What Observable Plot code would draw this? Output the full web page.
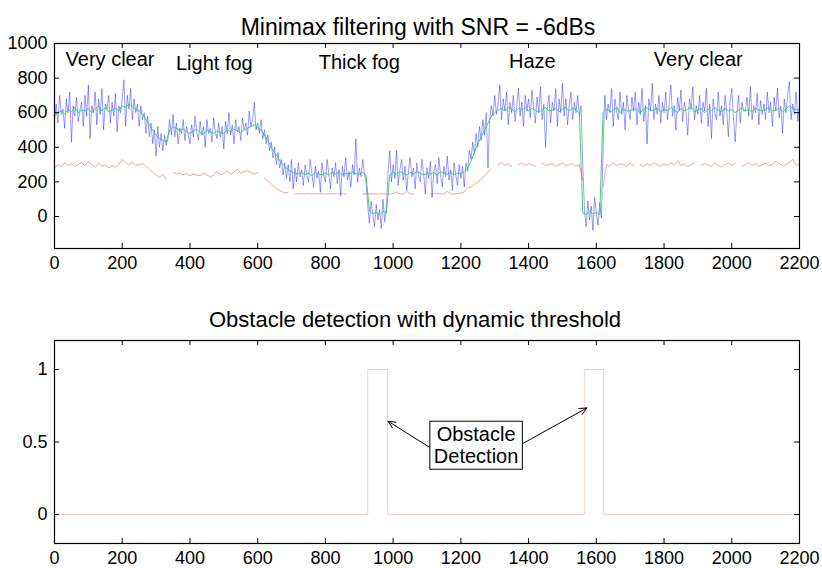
<!DOCTYPE html>
<html><head><meta charset="utf-8">
<script src="https://cdn.jsdelivr.net/npm/d3@7"></script>
<script src="https://cdn.jsdelivr.net/npm/@observablehq/plot@0.6"></script>
<style>
body{margin:0;background:#fff;}
#chart{position:relative;width:822px;height:568px;font-family:"Liberation Sans",Arial,sans-serif;}
#chart svg{position:absolute;left:0;overflow:visible;}
</style></head><body><div id="chart"></div>
<script>
// ---------- data ----------
const topTitle = "Minimax filtering with SNR = -6dBs";
const bottomTitle = "Obstacle detection with dynamic threshold";
const xTicks = [0,200,400,600,800,1000,1200,1400,1600,1800,2000,2200];
const yTicksTop = [0,200,400,600,800,1000];
const yTicksBottom = [0,0.5,1];

const blueStep = 5;
const blueValues = [
560,650,540,700,590,620,510,680,600,720,430,640,580,690,550,610,660,520,700,580,
760,450,640,600,720,530,680,590,740,500,650,620,700,540,660,580,710,490,640,600,
680,790,520,700,620,740,560,680,600,650,520,640,560,600,480,580,460,540,420,500,
350,520,400,480,380,470,410,450,560,470,590,460,540,420,510,480,560,440,520,470,
420,530,460,580,490,440,550,470,520,400,560,480,510,430,570,490,450,540,460,520,
390,550,480,600,470,530,420,560,490,520,440,570,500,540,470,610,520,560,660,500,
540,480,560,450,500,420,470,380,430,340,400,300,370,280,330,240,310,220,300,200,
330,160,280,200,310,230,270,180,300,240,200,330,250,170,290,220,260,140,310,240,
200,330,250,160,280,230,310,190,270,120,290,230,340,210,260,170,300,240,450,200,
280,230,330,250,200,60,-40,90,10,-60,70,-20,40,-70,100,-30,50,260,380,200,
300,220,380,180,270,330,210,290,150,260,340,230,280,160,310,240,200,330,250,130,
280,220,320,110,260,300,190,340,240,170,290,230,350,210,270,150,310,240,180,300,
220,290,170,310,260,380,330,430,360,480,400,520,440,560,470,600,280,560,640,580,
700,590,650,760,560,680,610,720,530,660,600,700,550,640,740,580,660,520,700,610,
680,570,730,620,540,690,600,750,560,650,400,620,700,540,660,610,740,520,680,600,
770,580,680,530,640,720,560,660,600,700,580,640,300,40,-60,90,-20,60,-80,110,
20,-50,80,-10,400,700,560,650,600,740,520,680,610,560,720,590,660,500,700,620,
560,690,610,720,530,660,590,740,550,640,420,680,610,770,560,650,590,700,540,660,
600,720,560,650,760,580,640,500,690,610,730,550,660,600,470,680,620,750,560,640,
590,700,540,660,610,740,520,650,450,680,600,560,720,580,640,530,700,610,460,660,
740,570,430,600,700,540,660,610,610,690,580,750,560,640,600,710,530,670,590,650,
560,720,600,660,520,690,610,740,570,640,480,680,600,700,780,560,650,590,720,550,640
];

const greenStep = 10;
const greenValues = [
580,600,610,590,620,605,630,600,615,610,
625,600,620,640,610,630,605,615,625,610,
640,630,650,635,620,610,590,560,530,500,
470,450,440,430,500,520,510,495,505,490,
480,495,505,485,475,500,490,480,495,485,
480,500,490,505,495,485,500,510,520,530,
515,500,470,440,400,370,340,310,290,270,
260,250,245,255,240,250,235,255,245,240,
250,240,255,245,260,240,250,245,255,250,
245,255,240,30,15,25,10,30,20,240,
255,245,260,250,240,255,245,260,250,240,
250,245,255,240,260,250,245,255,240,250,
245,260,280,320,370,420,460,500,540,580,
600,615,625,610,630,620,605,625,615,630,
610,625,615,600,620,630,610,615,625,605,
620,630,610,625,615,600,20,10,30,15,
25,10,600,620,605,615,630,600,620,610,
610,625,615,600,620,630,610,615,625,605,
620,610,630,615,600,625,610,620,635,605,
615,625,600,620,610,630,615,605,625,610,
620,600,615,630,610,620,605,625,615,610,
620,630,610,615,625,605,620,640,625,615,
620
];

const redStep = 10;
const redValues = [
280,300,290,310,295,305,290,300,310,295,
320,300,285,310,290,300,280,295,285,300,
330,310,300,315,295,300,305,290,275,255,
240,225,245,215,null,255,245,250,240,250,
235,245,240,235,250,240,230,240,260,240,
250,265,245,255,275,250,260,265,255,245,
255,null,220,205,190,170,155,145,135,140,
null,130,132,131,130,135,131,130,133,130,
131,130,134,131,130,132,131,null,null,null,
null,130,131,130,131,130,131,130,131,130,
132,140,131,130,145,131,130,null,null,null,
null,131,130,132,131,130,145,131,130,132,
135,140,165,170,185,200,215,235,255,275,
null,300,310,295,305,290,null,300,310,295,
305,300,290,null,310,295,300,305,290,300,
310,295,300,305,290,300,210,null,null,null,
null,null,170,300,290,310,295,305,300,290,
310,295,null,300,290,305,295,310,300,290,
305,295,310,300,320,295,305,290,300,310,
null,295,305,300,290,310,295,285,300,310,
295,305,null,290,300,310,295,305,290,300,
310,295,300,320,305,295,300,310,330,300,
295
];

const detectX = [0,925,925,983,983,1566,1566,1621,1621,2200];
const detectY = [0,0,1,1,0,0,1,1,0,0];

const regionLabels = ["Very clear","Light fog","Thick fog","Haze","Very clear"];
const regionX = [164,472,900,1411,1901];
const regionY = [906,883,889,894,906];

const noteText = "Obstacle\nDetection";
const noteX = 1245, noteY = 0.478;
const arrowX1 = [1112,1378], arrowY1 = [0.457,0.483];
const arrowX2 = [985,1572], arrowY2 = [0.643,0.735];

// ---------- build ----------
const FONT = '"Liberation Sans", Arial, sans-serif';
const W = 822;
const xDomain = [0,2200];
const topYDomain = [-185,1000];
const botYDomain = [-0.2,1.2];

const blue = blueValues.map((v,i)=>({x:i*blueStep,y:v}));
const green = greenValues.map((v,i)=>({x:i*greenStep,y:v}));
const red = redValues.map((v,i)=>({x:i*redStep,y:v}));
const detect = detectX.map((x,i)=>({x,y:detectY[i]}));
const regions = regionLabels.map((t,i)=>({t,x:regionX[i],y:regionY[i]}));
const arrows = arrowX1.map((x,i)=>({x1:x,y1:arrowY1[i],x2:arrowX2[i],y2:arrowY2[i]}));

function inwardTicks(yDom, frameH, yt, fmtY){
  const tl = 5;
  const dy = (yDom[1]-yDom[0])*tl/frameH;
  const dx = (xDomain[1]-xDomain[0])*tl/745;
  return [
    Plot.ruleX(xTicks,{x:d=>d,y1:yDom[0],y2:yDom[0]+dy,stroke:"black"}),
    Plot.ruleX(xTicks,{x:d=>d,y1:yDom[1],y2:yDom[1]-dy,stroke:"black"}),
    Plot.ruleY(yt,{y:d=>d,x1:xDomain[0],x2:xDomain[0]+dx,stroke:"black"}),
    Plot.ruleY(yt,{y:d=>d,x1:xDomain[1],x2:xDomain[1]-dx,stroke:"black"}),
    Plot.axisX(xTicks,{anchor:"bottom",tickSize:0,tickPadding:8,fontSize:18,label:null,tickFormat:d=>String(d)}),
    Plot.axisY(yt,{anchor:"left",tickSize:0,tickPadding:7,fontSize:18,label:null,tickFormat:fmtY}),
    Plot.frame({stroke:"black",strokeWidth:1.2})
  ];
}

const chart = document.getElementById("chart");

const topH = 285;
const topPlot = Plot.plot({
  width:W, height:topH,
  marginLeft:54, marginRight:23, marginTop:43, marginBottom:37,
  style:{fontFamily:FONT,fontSize:"18px",color:"black",background:"transparent"},
  x:{domain:xDomain,axis:null},
  y:{domain:topYDomain,axis:null},
  marks:[
    Plot.line(blue,{x:"x",y:"y",stroke:"#0000ff",strokeWidth:0.6,strokeOpacity:0.65}),
    Plot.line(green,{x:"x",y:"y",stroke:"#2ccc5c",strokeWidth:0.9}),
    Plot.line(red,{x:"x",y:"y",stroke:"#ff3333",strokeWidth:0.6,strokeOpacity:0.8}),
    ...inwardTicks(topYDomain,205,yTicksTop,d=>String(d)),
    Plot.text(regions,{x:"x",y:"y",text:"t",fontSize:20,fill:"black"}),
    Plot.text([topTitle],{frameAnchor:"top",dx:-9,dy:-25,fontSize:23,fill:"black"})
  ]
});
topPlot.style.top = "0px";
chart.appendChild(topPlot);

const botH = 283;
const botPlot = Plot.plot({
  width:W, height:botH,
  marginLeft:54, marginRight:23, marginTop:55, marginBottom:25,
  style:{fontFamily:FONT,fontSize:"18px",color:"black",background:"transparent"},
  x:{domain:xDomain,axis:null},
  y:{domain:botYDomain,axis:null},
  marks:[
    Plot.line(detect,{x:"x",y:"y",stroke:"#ffc8c8",strokeWidth:1}),
    ...inwardTicks(botYDomain,203,yTicksBottom,d=>String(d)),
    Plot.arrow(arrows,{x1:"x1",y1:"y1",x2:"x2",y2:"y2",stroke:"black",strokeWidth:1,headLength:12,headAngle:50}),
    Plot.text([noteText],{x:()=>noteX,y:()=>noteY,fontSize:20,lineHeight:1.1,fill:"black"}),
    Plot.text([bottomTitle],{frameAnchor:"top",dx:-12,dy:-29,fontSize:22,fill:"black"})
  ]
});
botPlot.style.top = "285px";
chart.appendChild(botPlot);

// box around the note, drawn in the text's own coordinate system
const noteEl = Array.from(botPlot.querySelectorAll("text")).find(t=>t.textContent.replace(/\s/g,"")==="ObstacleDetection");
if (noteEl){
  const bb = noteEl.getBBox();
  const padX = 4, padY = 2;
  const rect = document.createElementNS("http://www.w3.org/2000/svg","rect");
  rect.setAttribute("x",bb.x-padX); rect.setAttribute("y",bb.y-padY);
  rect.setAttribute("width",bb.width+2*padX); rect.setAttribute("height",bb.height+2*padY);
  rect.setAttribute("fill","white"); rect.setAttribute("stroke","black"); rect.setAttribute("stroke-width","1");
  const tr = noteEl.getAttribute("transform");
  if (tr) rect.setAttribute("transform",tr);
  noteEl.parentNode.insertBefore(rect,noteEl);
}
</script></body></html>
